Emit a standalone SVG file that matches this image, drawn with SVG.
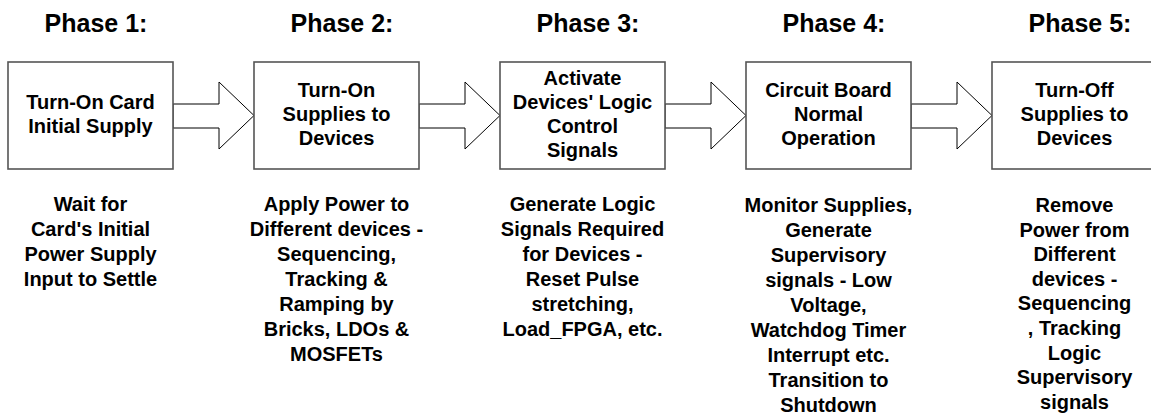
<svg xmlns="http://www.w3.org/2000/svg" width="1151" height="417" viewBox="0 0 1151 417">
  <style>
    text { font-family: "Liberation Sans", Arial, sans-serif; font-weight: bold; fill: #000; text-anchor: middle; }
    .phase { font-size: 25px; }
    .label { font-size: 20px; }
    .note { font-size: 20px; }
    .box { fill: #fff; stroke: #555; stroke-width: 1.6; }
    .arrow { fill: #fff; stroke: #000; stroke-width: 1; stroke-linejoin: miter; }
  </style>
  <defs>
    <!-- block arrow from one phase box to the next, drawn at origin = source box right edge -->
    <polygon id="blockArrow" class="arrow" points="0,104 46,104 46,82 81,115.5 46,149 46,128 0,128"/>
  </defs>

  <rect width="1151" height="417" fill="#fff"/>

  <!-- phase titles -->
  <g id="titles" class="phase">
    <text x="96" y="32">Phase 1:</text>
    <text x="342" y="32">Phase 2:</text>
    <text x="588" y="32">Phase 3:</text>
    <text x="834" y="32">Phase 4:</text>
    <text x="1080" y="32">Phase 5:</text>
  </g>

  <!-- connectors -->
  <g id="connectors">
    <use href="#blockArrow" x="173"/>
    <use href="#blockArrow" x="419"/>
    <use href="#blockArrow" x="665"/>
    <use href="#blockArrow" x="911"/>
  </g>

  <!-- phase 1 -->
  <g id="phase1">
    <rect class="box" x="8" y="62" width="165" height="107"/>
    <text class="label"><tspan x="90.5" y="108.5">Turn-On Card</tspan><tspan x="90.5" dy="24">Initial Supply</tspan></text>
    <text class="note"><tspan x="90.5" y="211">Wait for</tspan><tspan x="90.5" dy="25">Card's Initial</tspan><tspan x="90.5" dy="25">Power Supply</tspan><tspan x="90.5" dy="25">Input to Settle</tspan></text>
  </g>

  <!-- phase 2 -->
  <g id="phase2">
    <rect class="box" x="254" y="62" width="165" height="107"/>
    <text class="label"><tspan x="336.5" y="96.5">Turn-On</tspan><tspan x="336.5" dy="24">Supplies to</tspan><tspan x="336.5" dy="24">Devices</tspan></text>
    <text class="note"><tspan x="336.5" y="211">Apply Power to</tspan><tspan x="336.5" dy="25">Different devices -</tspan><tspan x="336.5" dy="25">Sequencing,</tspan><tspan x="336.5" dy="25">Tracking &amp;</tspan><tspan x="336.5" dy="25">Ramping by</tspan><tspan x="336.5" dy="25">Bricks, LDOs &amp;</tspan><tspan x="336.5" dy="25">MOSFETs</tspan></text>
  </g>

  <!-- phase 3 -->
  <g id="phase3">
    <rect class="box" x="500" y="62" width="165" height="107"/>
    <text class="label"><tspan x="582.5" y="84.5">Activate</tspan><tspan x="582.5" dy="24">Devices' Logic</tspan><tspan x="582.5" dy="24">Control</tspan><tspan x="582.5" dy="24">Signals</tspan></text>
    <text class="note"><tspan x="582.5" y="211">Generate Logic</tspan><tspan x="582.5" dy="25">Signals Required</tspan><tspan x="582.5" dy="25">for Devices -</tspan><tspan x="582.5" dy="25">Reset Pulse</tspan><tspan x="582.5" dy="25">stretching,</tspan><tspan x="582.5" dy="25">Load_FPGA, etc.</tspan></text>
  </g>

  <!-- phase 4 -->
  <g id="phase4">
    <rect class="box" x="746" y="62" width="165" height="107"/>
    <text class="label"><tspan x="828.5" y="96.5">Circuit Board</tspan><tspan x="828.5" dy="24">Normal</tspan><tspan x="828.5" dy="24">Operation</tspan></text>
    <text class="note"><tspan x="828.5" y="212">Monitor Supplies,</tspan><tspan x="828.5" dy="25">Generate</tspan><tspan x="828.5" dy="25">Supervisory</tspan><tspan x="828.5" dy="25">signals - Low</tspan><tspan x="828.5" dy="25">Voltage,</tspan><tspan x="828.5" dy="25">Watchdog Timer</tspan><tspan x="828.5" dy="25">Interrupt etc.</tspan><tspan x="828.5" dy="25">Transition to</tspan><tspan x="828.5" dy="25">Shutdown</tspan></text>
  </g>

  <!-- phase 5 -->
  <g id="phase5">
    <rect class="box" x="992" y="62" width="165" height="107"/>
    <text class="label"><tspan x="1074.5" y="96.5">Turn-Off</tspan><tspan x="1074.5" dy="24">Supplies to</tspan><tspan x="1074.5" dy="24">Devices</tspan></text>
    <text class="note"><tspan x="1074.5" y="212">Remove</tspan><tspan x="1074.5" dy="24.6">Power from</tspan><tspan x="1074.5" dy="24.6">Different</tspan><tspan x="1074.5" dy="24.6">devices -</tspan><tspan x="1074.5" dy="24.6">Sequencing</tspan><tspan x="1074.5" dy="24.6">, Tracking</tspan><tspan x="1074.5" dy="24.6">Logic</tspan><tspan x="1074.5" dy="24.6">Supervisory</tspan><tspan x="1074.5" dy="24.6">signals</tspan></text>
  </g>
</svg>
